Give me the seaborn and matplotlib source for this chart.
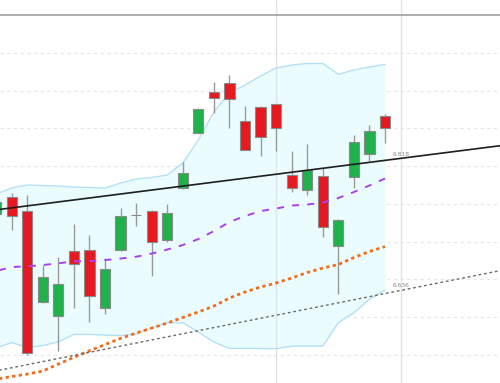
import numpy as np
import pandas as pd
import matplotlib
matplotlib.use("Agg")
import matplotlib.pyplot as plt
import seaborn as sns

# ---- data ----
idx = list(range(26))
open_ = [6.7365, 6.7590, 6.7404, 6.6199, 6.6014, 6.6875, 6.6888, 6.6126, 6.6888, 6.7358,
         6.7404, 6.7027, 6.7705, 6.8441, 6.8977, 6.9104, 6.8596, 6.8786, 6.8818, 6.7881,
         6.7682, 6.7872, 6.6945, 6.7851, 6.8155, 6.8667]
high = [6.7577, 6.7643, 6.7616, 6.6689, 6.6795, 6.7232, 6.7086, 6.6782, 6.7444, 6.7510,
        6.7418, 6.7497, 6.8057, 6.8773, 6.9113, 6.9206, 6.8799, 6.8795, 6.8822, 6.8199,
        6.8292, 6.7970, 6.7298, 6.8411, 6.8543, 6.8685]
low = [6.7312, 6.7153, 6.5497, 6.6186, 6.5550, 6.6120, 6.5934, 6.6040, 6.6875, 6.7206,
       6.6543, 6.6998, 6.7702, 6.8437, 6.8706, 6.8508, 6.8206, 6.8137, 6.8199, 6.7652,
       6.7616, 6.7064, 6.6301, 6.7705, 6.8067, 6.8301]
close = [6.7524, 6.7338, 6.5524, 6.6530, 6.6437, 6.6702, 6.6279, 6.6643, 6.7345, 6.7358,
         6.6994, 6.7382, 6.7912, 6.8751, 6.8905, 6.8888, 6.8212, 6.8388, 6.8508, 6.7705,
         6.7947, 6.7196, 6.7285, 6.8314, 6.8464, 6.8508]
band_upper = [6.7630, 6.7709, 6.7749, 6.7742, 6.7735, 6.7722, 6.7716, 6.7709, 6.7775, 6.7828,
              6.7848, 6.7881, 6.8040, 6.8345, 6.8716, 6.8967, 6.9073, 6.9192, 6.9298, 6.9338,
              6.9358, 6.9358, 6.9215, 6.9272, 6.9312, 6.9347]
band_lower = [6.5590, 6.5663, 6.5596, 6.5623, 6.5673, 6.5771, 6.5769, 6.5762, 6.5755, 6.5775,
              6.5855, 6.5925, 6.5925, 6.5802, 6.5669, 6.5586, 6.5586, 6.5583, 6.5581, 6.5616,
              6.5616, 6.5616, 6.5925, 6.6057, 6.6235, 6.6358]
ma_purple = [6.6610, 6.6663, 6.6672, 6.6689, 6.6712, 6.6738, 6.6742, 6.6755, 6.6775, 6.6799,
             6.6841, 6.6894, 6.6954, 6.7033, 6.7139, 6.7259, 6.7338, 6.7404, 6.7437, 6.7477,
             6.7490, 6.7517, 6.7577, 6.7656, 6.7742, 6.7835]
ma_orange = [6.5179, 6.5212, 6.5245, 6.5285, 6.5378, 6.5467, 6.5554, 6.5635, 6.5718, 6.5788,
             6.5855, 6.5921, 6.5994, 6.6067, 6.6146, 6.6252, 6.6332, 6.6398, 6.6451, 6.6517,
             6.6590, 6.6649, 6.6696, 6.6788, 6.6868, 6.6934]
trend_x = [0, 33]
trend_black = [6.7420, 6.8285]
trend_dotted = [6.5288, 6.6639]
trend_labels = ["6.818", "6.636"]
label_pos = [(25.5, 6.8155), (25.5, 6.6415)]
grid_levels = [6.55, 6.60, 6.65, 6.70, 6.75, 6.80, 6.85, 6.90, 6.95]
top_level = 7.00
vgrid_idx = [18, 26]

df = pd.DataFrame({"i": idx, "open": open_, "high": high, "low": low, "close": close,
                   "up": band_upper, "lo": band_lower, "p": ma_purple, "o": ma_orange})

sns.set_theme(style="white")
fig = plt.figure(figsize=(5.0, 3.83), dpi=100)
ax = fig.add_axes([0, 0, 1, 1])
ax.set_facecolor("white")

# grid
for g in grid_levels:
    ax.axhline(g, color="#e6e6e6", lw=0.8, ls=(0, (3, 3)), zorder=0)
ax.axhline(top_level, color="#a8a8a8", lw=1.3, zorder=1)
for v in vgrid_idx:
    ax.axvline(v, color="#dfe4ea", lw=1.0, zorder=0.5)

# bollinger band
ax.fill_between(df["i"], df["lo"], df["up"], color="#e9fcff", alpha=0.9, zorder=0.4, lw=0)
sns.lineplot(data=df, x="i", y="up", ax=ax, color="#b4e0f6", lw=1.0, zorder=2)
sns.lineplot(data=df, x="i", y="lo", ax=ax, color="#b4e0f6", lw=1.0, zorder=2)

# candles
w = 0.66
is_up = df["close"] >= df["open"]
ax.vlines(df["i"], df["low"], df["high"], color="#9a9a9a", lw=1.0, zorder=3)
bottoms = np.minimum(df["open"], df["close"])
heights = np.abs(df["close"] - df["open"])
colors = np.where(is_up, "#1fb24a", "#e5191f")
ax.bar(df["i"], heights, bottom=bottoms, width=w, color=colors,
       edgecolor="#8a8a8a", linewidth=0.8, zorder=4)

# moving averages
sns.lineplot(data=df, x="i", y="p", ax=ax, color="#a742ee", lw=1.4, zorder=5,
             linestyle=(0, (3.6, 4.2)))
sns.lineplot(data=df, x="i", y="o", ax=ax, color="#f36d1c", lw=2.0, zorder=5,
             linestyle=(0, (1.2, 1.2)))

# trend lines
ax.plot(trend_x, trend_black, color="#1e1e1e", lw=1.2, zorder=6)
ax.plot(trend_x, trend_dotted, color="#6a6a6a", lw=1.0, ls=(0, (2, 2)), zorder=6)
for t, (lx, ly) in zip(trend_labels, label_pos):
    ax.text(lx, ly, t, fontsize=4.3, color="#8a8a8a", ha="left", va="center", zorder=7)

ax.set_xlim(0.2478, 32.395)
ax.set_ylim(6.5127, 7.0199)
ax.set_xlabel("")
ax.set_ylabel("")
ax.set_xticks([])
ax.set_yticks([])
for s in ax.spines.values():
    s.set_visible(False)
if ax.get_legend():
    ax.get_legend().remove()

fig.savefig("out.png", dpi=100)
